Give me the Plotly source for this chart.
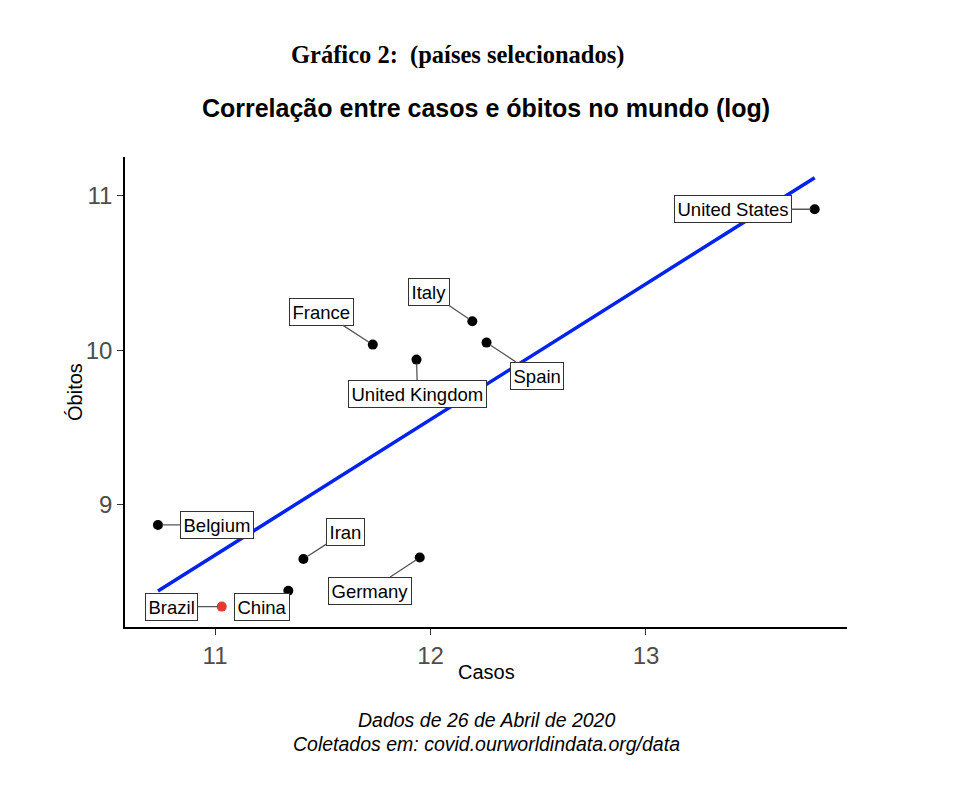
import numpy as np
import plotly.graph_objects as go

# ---- data (natural log of cumulative cases / deaths, 26 Apr 2020) ----
countries = ["United States", "Italy", "Spain", "France", "United Kingdom",
             "Belgium", "Iran", "Germany", "China", "Brazil"]
log_cases = [13.783, 12.194, 12.260, 11.732, 11.935, 10.735, 11.410, 11.950, 11.340, 11.031]
log_deaths = [10.912, 10.188, 10.050, 10.037, 9.940, 8.871, 8.651, 8.660, 8.445, 8.343]
highlight = "Brazil"

x_ticks = [11, 12, 13]
y_ticks = [9, 10, 11]

# ---- label offsets in pixels (style, not data) ----
label_offsets = {
    "United States": (-82, 0),
    "Italy": (-43, -29),
    "Spain": (50, 33),
    "France": (-51, -33),
    "United Kingdom": (1, 34),
    "Belgium": (59, 0),
    "Iran": (42, -27),
    "Germany": (-50, 33),
    "China": (-26, 16),
    "Brazil": (-50, 0),
}

FONT = "Liberation Sans, Arial, Helvetica, sans-serif"
W, H = 980, 792
PAGE_OFF = 8  # body margin of the html page

fig = go.Figure()

# regression line (OLS fit on the points)
slope, intercept = np.polyfit(log_cases, log_deaths, 1)
xl = np.array([min(log_cases), max(log_cases)])
fig.add_trace(go.Scatter(x=xl, y=slope * xl + intercept, mode="lines",
                         line=dict(color="#0022ee", width=3.5),
                         hoverinfo="skip", showlegend=False))

colors = ["#e53a2f" if c == highlight else "black" for c in countries]
fig.add_trace(go.Scatter(x=log_cases, y=log_deaths, mode="markers",
                         marker=dict(color=colors, size=10),
                         text=countries, showlegend=False))

annotations = []
for c, xv, yv in zip(countries, log_cases, log_deaths):
    ax, ay = label_offsets[c]
    annotations.append(dict(
        x=xv, y=yv, xref="x", yref="y", text=c,
        showarrow=True, arrowhead=0, arrowwidth=1.3, arrowcolor="#555555",
        ax=ax, ay=ay, standoff=4,
        font=dict(family=FONT, size=18.5, color="black"),
        bgcolor="white", bordercolor="#333333", borderwidth=1, borderpad=2.5,
    ))

annotations += [
    dict(text="<b>Gráfico 2:  (países selecionados)</b>", xref="paper", yref="paper",
         x=0.4605, y=1.217, xanchor="center", yanchor="middle", showarrow=False,
         font=dict(family="Liberation Serif, Times New Roman, serif", size=24.5, color="black")),
    dict(text="<i>Dados de 26 de Abril de 2020</i>", xref="paper", yref="paper",
         x=0.5, y=-0.198, xanchor="center", yanchor="middle", showarrow=False,
         font=dict(family=FONT, size=19.5, color="black")),
    dict(text="<i>Coletados em: covid.ourworldindata.org/data</i>", xref="paper", yref="paper",
         x=0.5, y=-0.249, xanchor="center", yanchor="middle", showarrow=False,
         font=dict(family=FONT, size=19.5, color="black")),
    dict(text="Casos", xref="paper", yref="paper",
         x=0.5, y=-0.0957, xanchor="center", yanchor="middle", showarrow=False,
         font=dict(family=FONT, size=20, color="black")),
    dict(text="Óbitos", xref="paper", yref="paper", textangle=-90,
         x=-0.0693, y=0.5, xanchor="center", yanchor="middle", showarrow=False,
         font=dict(family=FONT, size=20, color="black")),
]

fig.update_layout(
    width=W, height=H,
    margin=dict(l=125 - PAGE_OFF, r=W - (847 - PAGE_OFF), t=157 - PAGE_OFF,
                b=H - (627 - PAGE_OFF), pad=0),
    paper_bgcolor="white", plot_bgcolor="white",
    title=dict(text="<b>Correlação entre casos e óbitos no mundo (log)</b>",
               x=0.5, xref="paper", xanchor="center",
               y=1 - (108 - PAGE_OFF) / H, yref="container", yanchor="middle",
               font=dict(family=FONT, size=25, color="black")),
    annotations=annotations,
    font=dict(family=FONT),
)

fig.update_xaxes(range=[10.582, 13.933], tickvals=x_ticks,
                 showgrid=False, zeroline=False,
                 showline=True, linecolor="black", linewidth=1.6,
                 ticks="outside", ticklen=6, tickwidth=1.3, tickcolor="#333333",
                 tickfont=dict(family=FONT, size=24, color="#4d4d4d"))
fig.update_yaxes(range=[8.211, 11.25], tickvals=y_ticks,
                 showgrid=False, zeroline=False,
                 showline=True, linecolor="black", linewidth=1.6,
                 ticks="outside", ticklen=6, tickwidth=1.3, tickcolor="#333333",
                 tickfont=dict(family=FONT, size=24, color="#4d4d4d"))

fig.write_html("out.html")
